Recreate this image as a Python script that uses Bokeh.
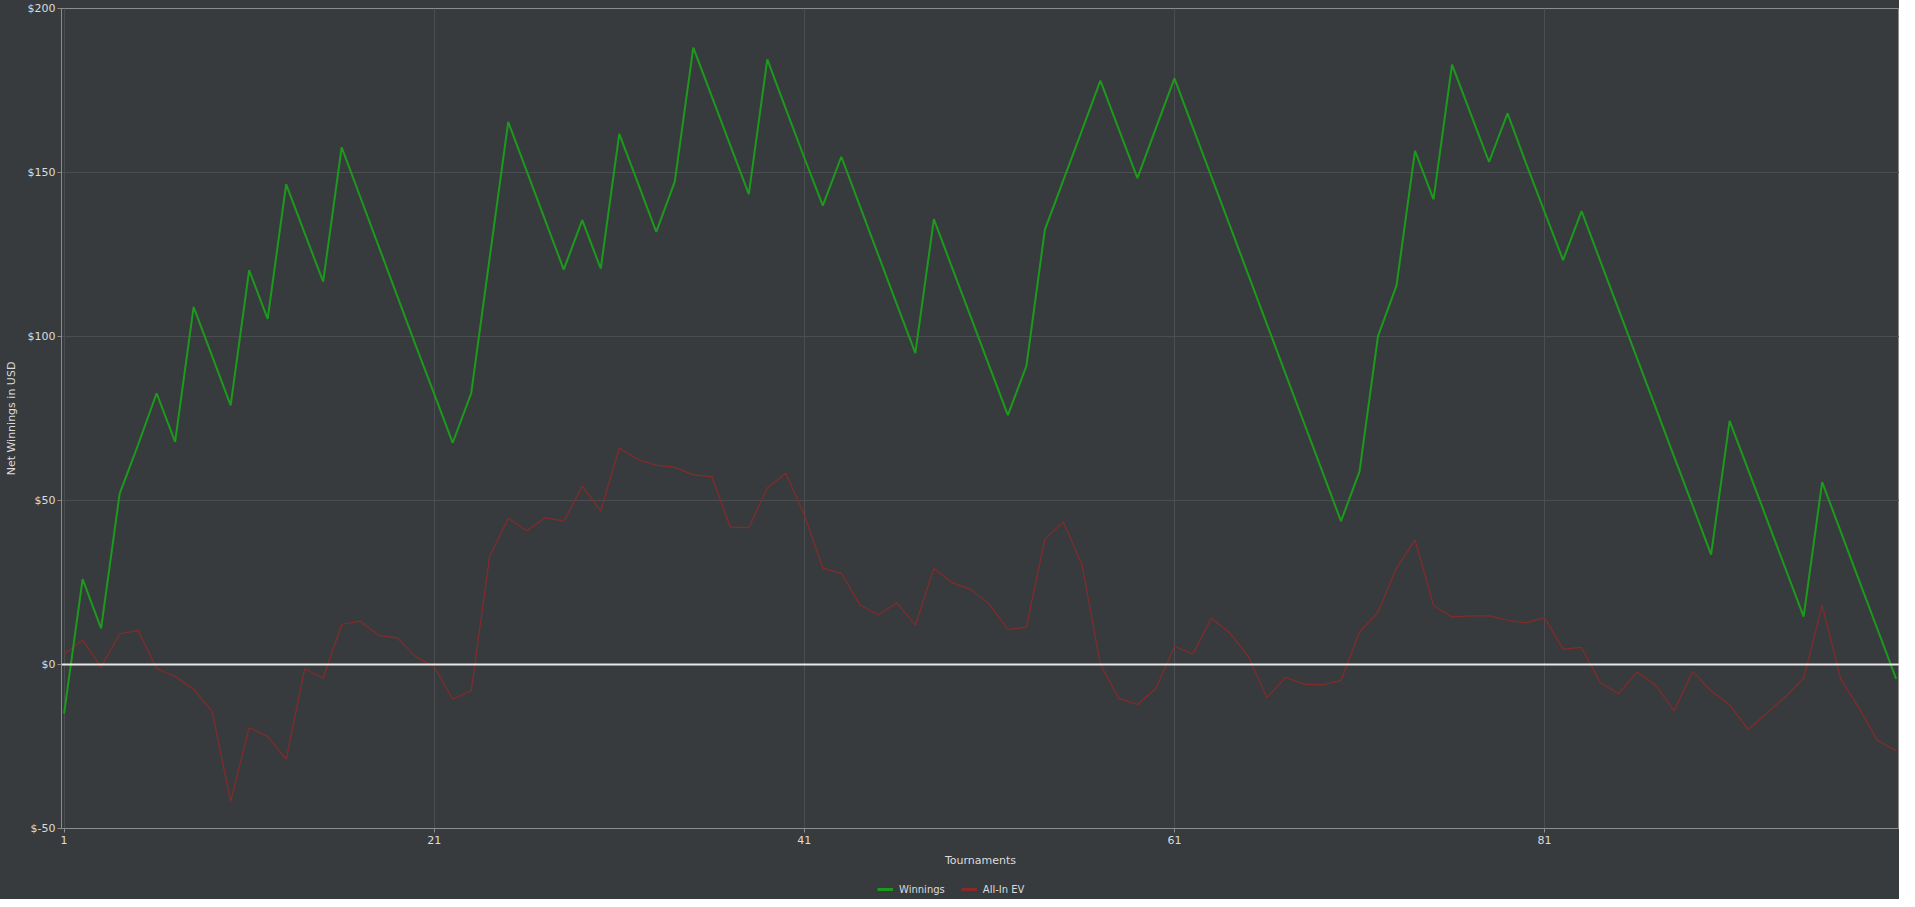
from bokeh.plotting import figure
from bokeh.models import (Range1d, FixedTicker, Span, Legend, LegendItem)
from bokeh.layouts import column
from bokeh.embed import file_html
from bokeh.resources import INLINE

# ---------------- data ----------------
tournaments = list(range(1, 101))

winnings = [
    -15, 26, 11, 52, 67, 82.7, 67.9, 109, 94, 79,
    120.2, 105.4, 146.4, 131.5, 116.7, 157.7, 142.6, 127.5, 112.4, 97.3,
    82.5, 67.6, 82.7, 124.1, 165.4, 150.4, 135.4, 120.4, 135.5, 120.7,
    161.8, 146.9, 131.9, 147.2, 188.1, 173.2, 158.3, 143.4, 184.5, 169.4,
    154.5, 139.9, 154.8, 139.8, 124.8, 109.8, 94.9, 135.8, 120.8, 105.9,
    90.9, 76, 91, 132.6, 147.7, 162.8, 178, 163.1, 148.3, 163.5,
    178.7, 163.7, 148.7, 133.7, 118.7, 103.7, 88.7, 73.7, 58.7, 43.7,
    58.8, 100.1, 115.5, 156.6, 141.8, 182.9, 168, 153.2, 168, 152.8,
    138, 123.3, 138.2, 123.2, 108.3, 93.3, 78.4, 63.4, 48.5, 33.5,
    74.3, 59.4, 44.5, 29.5, 14.6, 55.6, 40.6, 25.6, 10.6, -4.4,
]

allin_ev = [
    3.2, 7.5, -0.8, 9.3, 10.4, -1.3, -3.6, -7.6, -14.3, -41.7,
    -19.3, -21.9, -28.9, -1.3, -4.2, 12.2, 13.2, 8.9, 8.1, 2.4,
    -0.6, -10.6, -8.0, 33.1, 44.5, 40.8, 44.8, 43.7, 54.3, 46.8,
    66.0, 62.5, 60.8, 60.1, 57.8, 57.3, 41.9, 41.7, 53.8, 58.3,
    45.6, 29.4, 27.8, 18.2, 15.1, 18.8, 12.0, 29.2, 24.9, 22.9,
    18.4, 10.7, 11.4, 38.3, 43.4, 30.5, 0.0, -10.4, -12.2, -7.3,
    5.5, 3.2, 14.1, 9.6, 2.4, -10.1, -3.9, -6.0, -6.2, -4.9,
    9.9, 15.9, 29.4, 38.0, 18.0, 14.5, 14.8, 14.8, 13.5, 12.7,
    14.3, 4.7, 5.2, -5.5, -8.9, -2.3, -6.3, -14.1, -2.1, -8.0,
    -12.3, -19.8, -14.9, -9.9, -4.2, 18.0, -4.4, -13.3, -23.2, -26.3,
]

x_ticks = [1, 21, 41, 61, 81]
y_ticks = [-50, 0, 50, 100, 150, 200]
y_tick_labels = ["$-50", "$0", "$50", "$100", "$150", "$200"]

series_names = ["Winnings", "All-In EV"]
x_title = "Tournaments"
y_title = "Net Winnings in USD"

# ---------------- style ----------------
BG = "#383b3e"
TXT = "#dcdcdc"
GRID = "#4b4e51"
AXIS = "#8c8c8c"
GREEN = "#1c9a1c"
RED = "#862a2a"
FONT = "DejaVu Sans"
W = 1899

p = figure(width=W, height=869, output_backend="svg", toolbar_location=None,
           x_range=Range1d(0.86, 100.18), y_range=Range1d(-50, 200),
           min_border_left=61, min_border_right=0, min_border_top=8,
           min_border_bottom=39)

p.background_fill_color = BG
p.border_fill_color = BG
p.outline_line_color = AXIS
p.outline_line_width = 1

for ax in (p.xaxis[0], p.yaxis[0]):
    ax.axis_line_color = AXIS
    ax.major_tick_line_color = AXIS
    ax.major_tick_out = 4
    ax.major_tick_in = 0
    ax.minor_tick_line_color = None
    ax.major_label_text_color = TXT
    ax.major_label_text_font = FONT
    ax.major_label_text_font_size = "11px"
    ax.axis_label_text_color = TXT
    ax.axis_label_text_font = FONT
    ax.axis_label_text_font_size = "11px"
    ax.axis_label_text_font_style = "normal"

p.xaxis[0].ticker = FixedTicker(ticks=x_ticks)
p.yaxis[0].ticker = FixedTicker(ticks=y_ticks)
p.yaxis[0].major_label_overrides = {t: l for t, l in zip(y_ticks, y_tick_labels)}
p.xaxis[0].major_label_standoff = 3
p.yaxis[0].major_label_standoff = 2
p.xaxis[0].axis_label_standoff = 7
p.yaxis[0].axis_label_standoff = 7
p.xaxis[0].axis_label = x_title
p.yaxis[0].axis_label = y_title

p.xgrid.ticker = FixedTicker(ticks=x_ticks)
p.ygrid.ticker = FixedTicker(ticks=y_ticks)
p.xgrid.grid_line_color = GRID
p.ygrid.grid_line_color = GRID
p.xgrid.grid_line_width = 1
p.ygrid.grid_line_width = 1

zero = Span(location=0, dimension="width", line_color="#e8e8e8", line_width=2)
p.add_layout(zero)

p.line(tournaments, allin_ev, line_color=RED, line_width=1.2)
p.line(tournaments, winnings, line_color=GREEN, line_width=2)

# ---- legend strip (own figure, same series; its y-range keeps lines out of view) ----
lg = figure(width=W, height=30, output_backend="svg", toolbar_location=None,
            x_axis_type=None, y_axis_type=None,
            x_range=Range1d(0.86, 100.18), y_range=Range1d(1000, 1001),
            min_border=0, min_border_top=10)
lg.background_fill_color = BG
lg.border_fill_color = BG
lg.outline_line_color = None
lg.grid.visible = False
lw = lg.line(tournaments, winnings, line_color=GREEN, line_width=3)
le = lg.line(tournaments, allin_ev, line_color=RED, line_width=3)

legend = Legend(items=[LegendItem(label=series_names[0], renderers=[lw]),
                       LegendItem(label=series_names[1], renderers=[le])],
                orientation="horizontal", location="center_left",
                background_fill_alpha=0, border_line_alpha=0,
                label_text_color=TXT, label_text_font=FONT,
                label_text_font_size="10px",
                glyph_width=16, glyph_height=12, label_height=12,
                label_standoff=6, spacing=16, padding=0, margin=816)
lg.add_layout(legend, "center")

layout = column(p, lg, spacing=0, styles={"background-color": BG})
open("out.html", "w").write(file_html(layout, INLINE))
